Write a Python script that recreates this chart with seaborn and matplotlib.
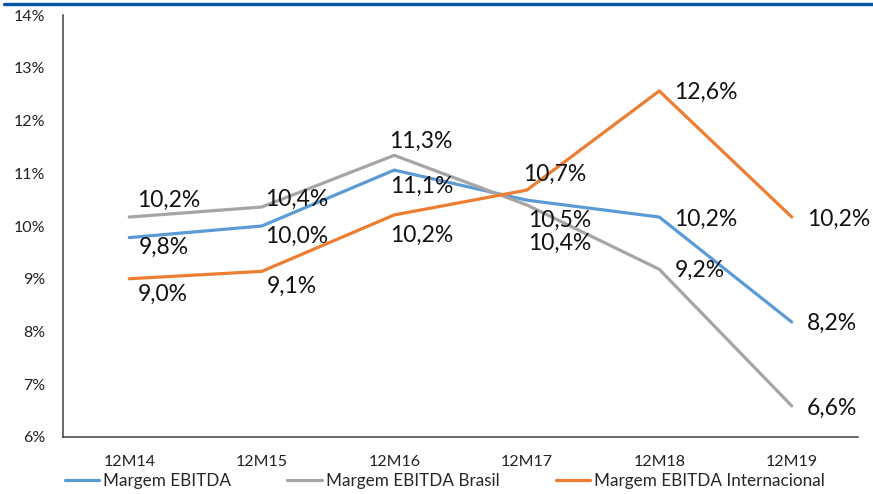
import matplotlib
matplotlib.use("Agg")
import matplotlib.pyplot as plt
from matplotlib.lines import Line2D
from matplotlib.ticker import FixedLocator
import seaborn as sns
import pandas as pd

# Data
periods = ["12M14", "12M15", "12M16", "12M17", "12M18", "12M19"]
margem_ebitda = [9.78, 10.00, 11.06, 10.49, 10.17, 8.18]
margem_brasil = [10.17, 10.36, 11.34, 10.40, 9.18, 6.59]
margem_internacional = [9.00, 9.14, 10.21, 10.68, 12.56, 10.17]
series_names = ["Margem EBITDA", "Margem EBITDA Brasil", "Margem EBITDA Internacional"]
y_ticks = [6, 7, 8, 9, 10, 11, 12, 13, 14]

colors = ["#5B9BD5", "#A5A5A5", "#ED7D31"]

rows = []
for name, vals in zip(series_names, [margem_ebitda, margem_brasil, margem_internacional]):
    for i, (p, v) in enumerate(zip(periods, vals)):
        rows.append({"pos": i, "period": p, "valor": v, "serie": name})
df = pd.DataFrame(rows)

sns.set_theme(style="white")
plt.rcParams["font.family"] = ["Lato", "DejaVu Sans"]

fig = plt.figure(figsize=(8.73, 4.94), dpi=100)
ax = fig.add_axes([0.0722, 0.1154, 0.9106, 0.8542])

sns.lineplot(data=df, x="pos", y="valor", hue="serie", palette=colors,
             hue_order=series_names, sort=False, linewidth=2.3, ax=ax,
             legend=False)

ax.set_xlim(-0.5, 5.5)
ax.set_ylim(6, 14)
ax.set_yticks(y_ticks)
ax.set_yticklabels([f"{t}%" for t in y_ticks], fontsize=11.5, color="#222222")
ax.set_xticks(range(len(periods)))
ax.set_xticklabels(periods, fontsize=11.5, color="#222222")
ax.xaxis.set_minor_locator(FixedLocator([3.5]))
ax.tick_params(axis="x", which="major", length=0, pad=13)
ax.tick_params(axis="x", which="minor", length=3, width=1.1, color="#404040", direction="out")
ax.tick_params(axis="y", length=4, width=1.1, color="#404040", direction="out", pad=9)
ax.set_xlabel("")
ax.set_ylabel("")
for side in ["top", "right"]:
    ax.spines[side].set_visible(False)
for side in ["left", "bottom"]:
    ax.spines[side].set_color("#404040")
    ax.spines[side].set_linewidth(1.1)

# Label offsets in pixels (dx, dy) relative to each point
offsets = {
    "Margem EBITDA": [(9, -10), (3, -10), (-4, -16), (1, -20), (15, -2), (15, -1)],
    "Margem EBITDA Brasil": [(8, 17), (3, 8), (-5, 14), (1, -38), (16, -1), (15, -2)],
    "Margem EBITDA Internacional": [(8, -16), (5, -15), (-4, -20), (-4, 16), (15, -1), (15, -2)],
}
px2pt = 72 / 100
for name, vals in zip(series_names, [margem_ebitda, margem_brasil, margem_internacional]):
    for i, v in enumerate(vals):
        dx, dy = offsets[name][i]
        txt = f"{v:.1f}".replace(".", ",") + "%"
        ax.annotate(txt, (i, v), xytext=(dx * px2pt, dy * px2pt),
                    textcoords="offset points", ha="left", va="center",
                    fontsize=16.5, color="#111111")

handles = [Line2D([], [], color=c, linewidth=2.3) for c in colors]
fig.legend(handles, series_names, loc="center", bbox_to_anchor=(0.5097, 0.026),
           ncol=3, frameon=False, fontsize=12.3, handlelength=2.0,
           handletextpad=0.25, columnspacing=3.3, borderaxespad=0)

# Header rule
fig.add_artist(Line2D([0.005, 1.0], [0.9929, 0.9929], transform=fig.transFigure,
                      color="#0055A4", linewidth=2.4))

fig.savefig("out.png", dpi=100)
